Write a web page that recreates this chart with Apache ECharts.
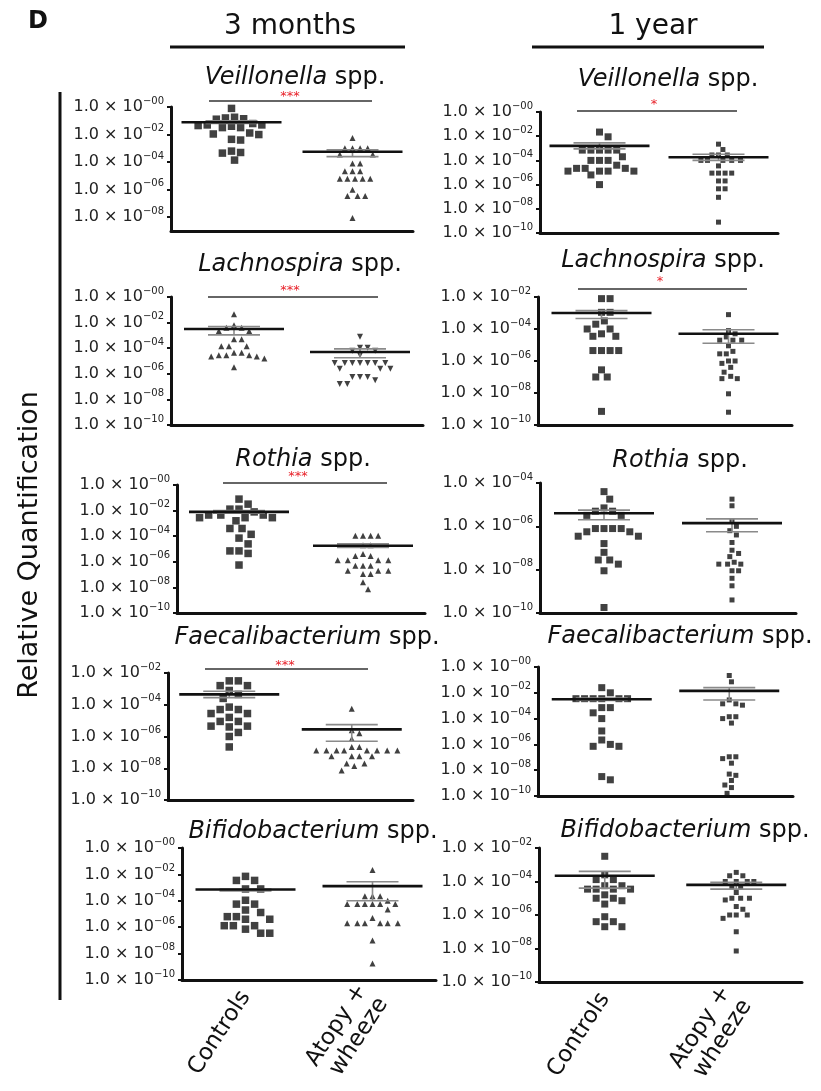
<!DOCTYPE html>
<html><head><meta charset="utf-8">
<script src="https://cdn.jsdelivr.net/npm/echarts@6/dist/echarts.min.js"></script>
<style>html,body{margin:0;padding:0;background:#fff}#c{width:821px;height:1091px}</style>
</head><body><div id="c"></div>
<script>
const FONT = 'DejaVu Sans';
const groupLabels = ['Controls', 'Atopy +\nwheeze'];
const ageHeaders = ['3 months', '1 year'];
const panelLetter = 'D';
const yAxisName = 'Relative Quantification';
const genera = ['Veillonella','Veillonella','Lachnospira','Lachnospira','Rothia','Rothia','Faecalibacterium','Faecalibacterium','Bifidobacterium','Bifidobacterium'];
const significance = ['***','*','***','*','***','','***','','',''];

// ---- values (relative quantification) ----
const veillonella3mControls = [7.9e-1,1.8e-1,1.6e-1,1.4e-1,1.3e-1,6.3e-2,5.0e-2,5.0e-2,4.5e-2,4.0e-2,3.2e-2,3.2e-2,1.3e-2,1.1e-2,1.0e-2,4.5e-3,4.0e-3,6.3e-4,5.0e-4,4.5e-4,1.4e-4];
const veillonella3mAtopy = [5.6e-3,1.0e-3,1.0e-3,1.0e-3,1.0e-3,3.5e-4,3.5e-4,7.9e-5,7.9e-5,2.2e-5,2.2e-5,2.2e-5,6.3e-6,6.3e-6,6.3e-6,6.3e-6,6.3e-6,1.0e-6,3.5e-7,3.5e-7,3.5e-7,8.9e-9];
const veillonella1yControls = [2.2e-2,8.9e-3,7.1e-4,7.1e-4,7.1e-4,7.1e-4,7.1e-4,2.0e-4,1.0e-4,1.0e-4,1.0e-4,4.0e-5,2.2e-5,2.2e-5,2.2e-5,1.3e-5,1.3e-5,1.3e-5,1.3e-5,6.3e-6,1.0e-6];
const veillonella1yAtopy = [2.2e-3,7.9e-4,2.8e-4,2.8e-4,2.8e-4,1.0e-4,1.0e-4,1.0e-4,1.0e-4,1.0e-4,3.5e-5,8.9e-6,8.9e-6,8.9e-6,8.9e-6,2.0e-6,2.0e-6,4.5e-7,4.5e-7,8.9e-8,7.9e-10];
const lachnospira3mControls = [4.5e-2,6.3e-3,4.0e-3,4.0e-3,2.2e-3,2.2e-3,5.0e-4,5.0e-4,1.4e-4,1.4e-4,1.4e-4,4.5e-5,4.5e-5,2.8e-5,2.8e-5,2.8e-5,2.2e-5,2.2e-5,1.6e-5,3.2e-6];
const lachnospira3mAtopy = [7.9e-4,1.1e-4,1.1e-4,6.3e-5,6.3e-5,2.8e-5,7.1e-6,7.1e-6,7.1e-6,7.1e-6,7.1e-6,7.1e-6,7.1e-6,2.5e-6,2.5e-6,2.5e-6,5.6e-7,5.6e-7,5.6e-7,3.2e-7,1.6e-7,1.6e-7];
const lachnospira1yControls = [7.9e-3,7.9e-3,1.1e-3,1.1e-3,3.2e-4,2.0e-4,1.0e-4,1.0e-4,5.0e-5,3.5e-5,3.5e-5,4.5e-6,4.5e-6,4.5e-6,4.5e-6,2.8e-7,1.0e-7,1.0e-7,7.1e-10];
const lachnospira1yAtopy = [7.9e-4,7.9e-5,5.0e-5,3.2e-5,2.0e-5,2.0e-5,2.0e-5,8.9e-6,4.0e-6,2.8e-6,2.8e-6,1.0e-6,1.0e-6,7.1e-7,4.0e-7,2.0e-7,1.1e-7,7.9e-8,7.9e-8,8.9e-9,6.3e-10];
const rothia3mControls = [7.9e-2,3.2e-2,1.3e-2,1.3e-2,7.9e-3,4.5e-3,4.5e-3,4.5e-3,2.8e-3,2.8e-3,2.8e-3,1.6e-3,4.0e-4,4.0e-4,1.4e-4,7.1e-5,2.5e-5,7.1e-6,7.1e-6,4.5e-6,5.6e-7];
const rothia3mAtopy = [1.1e-4,1.1e-4,1.1e-4,1.1e-4,2.0e-5,2.0e-5,4.0e-6,2.8e-6,2.8e-6,1.3e-6,1.3e-6,1.3e-6,1.3e-6,5.0e-7,5.0e-7,5.0e-7,2.0e-7,2.0e-7,2.0e-7,1.1e-7,1.1e-7,2.5e-8,7.1e-9];
const rothia1yControls = [4.0e-5,1.8e-5,7.1e-6,5.0e-6,5.0e-6,3.2e-6,3.2e-6,7.9e-7,7.9e-7,7.9e-7,7.9e-7,5.6e-7,5.6e-7,3.5e-7,3.5e-7,1.6e-7,6.3e-8,2.8e-8,2.8e-8,1.8e-8,8.9e-9,1.8e-10];
const rothia1yAtopy = [1.8e-5,8.9e-6,1.8e-6,1.0e-6,6.3e-7,4.0e-7,1.8e-7,7.9e-8,5.6e-8,4.0e-8,2.2e-8,1.8e-8,1.8e-8,1.8e-8,8.9e-9,8.9e-9,4.0e-9,1.8e-9,4.0e-10];
const faecali3mControls = [3.2e-3,3.2e-3,1.6e-3,1.6e-3,7.9e-4,4.5e-4,2.5e-4,7.1e-5,5.0e-5,5.0e-5,2.8e-5,2.8e-5,1.6e-5,8.9e-6,8.9e-6,4.5e-6,4.5e-6,4.0e-6,1.8e-6,1.0e-6,2.2e-7];
const faecali3mAtopy = [5.6e-5,2.5e-6,1.6e-6,7.1e-7,2.2e-7,2.2e-7,1.3e-7,1.3e-7,1.3e-7,1.3e-7,1.3e-7,1.3e-7,1.3e-7,1.3e-7,5.6e-8,5.6e-8,5.6e-8,5.6e-8,2.0e-8,2.0e-8,1.4e-8,7.1e-9];
const faecali1yControls = [2.5e-2,1.0e-2,3.5e-3,3.5e-3,3.5e-3,3.5e-3,3.5e-3,3.5e-3,7.1e-4,7.1e-4,2.8e-4,1.0e-4,1.1e-5,2.2e-6,1.0e-6,7.1e-7,7.1e-7,3.2e-9,1.8e-9];
const faecali1yAtopy = [2.2e-1,7.1e-2,2.8e-3,1.4e-3,1.4e-3,1.1e-3,1.4e-4,1.4e-4,1.0e-4,4.5e-5,1.1e-7,1.1e-7,7.9e-8,3.5e-8,5.0e-9,4.0e-9,1.6e-9,7.1e-10,4.5e-10,1.6e-10];
const bifido3mControls = [7.1e-3,3.5e-3,3.5e-3,7.9e-4,7.9e-4,1.1e-4,5.6e-5,5.6e-5,2.0e-5,1.3e-5,6.3e-6,6.3e-6,4.0e-6,4.0e-6,1.3e-6,1.3e-6,1.3e-6,7.1e-7,3.5e-7,3.5e-7];
const bifido3mAtopy = [2.2e-2,2.2e-4,2.2e-4,2.2e-4,1.0e-4,5.6e-5,5.6e-5,5.6e-5,5.6e-5,5.6e-5,5.6e-5,2.2e-5,5.0e-6,2.0e-6,2.0e-6,2.0e-6,2.0e-6,2.0e-6,2.0e-6,1.0e-7,1.8e-9];
const bifido1yControls = [3.2e-3,2.5e-4,1.3e-4,1.3e-4,5.6e-5,5.6e-5,3.5e-5,3.5e-5,3.5e-5,3.5e-5,1.6e-5,1.0e-5,1.0e-5,7.1e-6,4.5e-6,7.9e-7,4.0e-7,4.0e-7,2.0e-7,2.0e-7];
const bifido1yAtopy = [3.5e-4,2.2e-4,2.2e-4,1.0e-4,1.0e-4,1.0e-4,1.0e-4,4.5e-5,4.5e-5,2.2e-5,1.0e-5,1.0e-5,1.0e-5,7.9e-6,3.2e-6,2.2e-6,1.0e-6,1.0e-6,1.0e-6,6.3e-7,1.0e-7,7.1e-9];

// mean and SEM per panel (order: veil 3m, veil 1y, lach 3m, lach 1y, roth 3m, roth 1y, faec 3m, faec 1y, bifi 3m, bifi 1y)
const meanControls    = [7.9e-2,1.6e-3,3.2e-3,1.0e-3,7.9e-3,4.0e-6,4.5e-4,3.2e-3,7.1e-4,2.2e-4];
const semLowControls  = [6.3e-2,8.9e-4,1.1e-3,4.5e-4,6.3e-3,2.0e-6,2.8e-4,2.5e-3,5.6e-4,4.0e-5];
const semHighControls = [1.0e-1,2.8e-3,5.0e-3,1.4e-3,1.0e-2,5.6e-6,7.1e-4,4.0e-3,7.9e-4,4.0e-4];
const meanAtopy       = [5.6e-4,1.8e-4,5.0e-5,5.0e-5,1.8e-5,1.4e-6,2.8e-6,1.4e-2,1.3e-3,6.3e-5];
const semLowAtopy     = [2.5e-4,1.0e-4,1.8e-5,1.3e-5,1.3e-5,5.6e-7,5.0e-7,2.8e-3,1.0e-4,3.5e-5];
const semHighAtopy    = [7.9e-4,3.2e-4,8.9e-5,8.9e-5,2.5e-5,2.2e-6,5.6e-6,2.5e-2,2.8e-3,8.9e-5];

// tick labels
const yTicksTo8  = [1e0,1e-2,1e-4,1e-6,1e-8];
const yTicksFull = [1e0,1e-2,1e-4,1e-6,1e-8,1e-10];
const yTicksFrom2 = [1e-2,1e-4,1e-6,1e-8,1e-10];
const yTicksFrom4 = [1e-4,1e-6,1e-8,1e-10];

const controlsData = [veillonella3mControls,veillonella1yControls,lachnospira3mControls,lachnospira1yControls,rothia3mControls,rothia1yControls,faecali3mControls,faecali1yControls,bifido3mControls,bifido1yControls];
const atopyData = [veillonella3mAtopy,veillonella1yAtopy,lachnospira3mAtopy,lachnospira1yAtopy,rothia3mAtopy,rothia1yAtopy,faecali3mAtopy,faecali1yAtopy,bifido3mAtopy,bifido1yAtopy];
const tickSets = [yTicksTo8,yTicksFull,yTicksFull,yTicksFrom2,yTicksFull,yTicksFrom4,yTicksFrom2,yTicksFull,yTicksFull,yTicksFrom2];

// ---- layout (pixels) and styles ----
const layout = [
 {grid:[171,107,242,124], yRange:[1e-9,1e0],  title:[295,78],  sig:[209,372,101], star:[290,97]},
 {grid:[540,112,238,121], yRange:[1e-10,1e0], title:[668,80],  sig:[577,737,111], star:[654,105]},
 {grid:[171,297,252,128], yRange:[1e-10,1e0], title:[300,265], sig:[208,378,297], star:[290,291]},
 {grid:[538,297,254,128], yRange:[1e-10,1e-2],title:[663,261], sig:[578,747,289], star:[660,282]},
 {grid:[177,485,248,128], yRange:[1e-10,1e0], title:[303,460], sig:[223,387,483], star:[298,477]},
 {grid:[540,483,256,130], yRange:[1e-10,1e-4],title:[680,461]},
 {grid:[168,673,245,127], yRange:[1e-10,1e-2],title:[307,638], sig:[205,368,669], star:[285,666]},
 {grid:[538,667,255,129], yRange:[1e-10,1e0], title:[680,637]},
 {grid:[182,848,254,132], yRange:[1e-10,1e0], title:[313,832]},
 {grid:[539,848,263,134], yRange:[1e-10,1e-2],title:[685,831]}
];
const symbols = [
 {c:['rect',7.5,0], a:['triangle',6,0]},
 {c:['rect',7,0],   a:['rect',5,0]},
 {c:['triangle',6,0], a:['triangle',6,180]},
 {c:['rect',7,0],   a:['rect',5,0]},
 {c:['rect',7.5,0], a:['triangle',6,0]},
 {c:['rect',7,0],   a:['rect',5,0]},
 {c:['rect',7.5,0], a:['triangle',6,0]},
 {c:['rect',7,0],   a:['rect',5,0]},
 {c:['rect',7.5,0], a:['triangle',6,0]},
 {c:['rect',7,0],   a:['rect',5,0]}
];

// beeswarm layout (horizontal offsets only, in pixels -> axis units)
function swarm(vals, center, pxPerX, pxPerY, size) {
  const logs = vals.map(v => Math.log10(v));
  const order = logs.map((l, i) => i).sort((a, b) => logs[b] - logs[a]);
  const minD = size + 1.6, step = minD / 3;
  const placed = [];
  const out = new Array(vals.length);
  order.forEach(i => {
    const py = logs[i] * pxPerY;
    let dx = 0;
    for (let k = 0; k < 120; k++) {
      const cand = k === 0 ? 0 : (k % 2 ? 1 : -1) * Math.ceil(k / 2) * step;
      const hit = placed.some(p => Math.hypot(p[0] - cand, p[1] - py) < minD);
      if (!hit) { dx = cand; break; }
    }
    placed.push([dx, py]);
    out[i] = [center + dx / pxPerX, logs[i]];
  });
  return out;
}

function yLabel(v) {
  const n = Math.round(-v);
  return '{m|1.0 × 10}{s|−' + String(n).padStart(2, '0') + '}';
}

const grids = [], xAxes = [], yAxes = [], series = [], graphics = [];
layout.forEach((L, i) => {
  const [gl, gt, gw, gh] = L.grid;
  grids.push({left: gl, top: gt, width: gw, height: gh});
  const yMin = Math.log10(L.yRange[0]), yMax = Math.log10(L.yRange[1]);
  const bottom = i >= 8;
  xAxes.push({
    gridIndex: i, type: 'value', min: 0, max: 2,
    axisLine: {show: true, onZero: false, lineStyle: {color: '#111', width: 3}},
    axisTick: {show: false}, splitLine: {show: false},
    axisLabel: bottom ? {
      customValues: [0.5, 1.5], rotate: 57, margin: 13,
      fontFamily: FONT, fontSize: 23, lineHeight: 25, color: '#111',
      formatter: v => v < 1 ? groupLabels[0] : groupLabels[1]
    } : {show: false}
  });
  const ticks = tickSets[i].map(t => Math.log10(t));
  yAxes.push({
    gridIndex: i, type: 'value', min: yMin, max: yMax,
    axisLine: {show: true, lineStyle: {color: '#111', width: 3}},
    axisTick: {show: true, length: 4, customValues: ticks, lineStyle: {color: '#111', width: 2}},
    splitLine: {show: false},
    axisLabel: {
      customValues: ticks, margin: 7, formatter: yLabel,
      rich: {
        m: {fontFamily: FONT, fontSize: 16, color: '#222', lineHeight: 22},
        s: {fontFamily: FONT, fontSize: 10, color: '#222', verticalAlign: 'top'}
      }
    }
  });
  const pxPerX = gw / 2, pxPerY = gh / (yMax - yMin);
  const sym = symbols[i];
  [[controlsData[i], 0.5, sym.c], [atopyData[i], 1.5, sym.a]].forEach(([vals, center, s]) => {
    series.push({
      type: 'scatter', xAxisIndex: i, yAxisIndex: i, silent: true,
      symbol: s[0], symbolSize: s[1], symbolRotate: s[2],
      itemStyle: {color: '#111'},
      data: swarm(vals, center, pxPerX, pxPerY, s[1])
    });
  });
  const mData = [
    [0.5, Math.log10(meanControls[i]), Math.log10(semLowControls[i]), Math.log10(semHighControls[i])],
    [1.5, Math.log10(meanAtopy[i]), Math.log10(semLowAtopy[i]), Math.log10(semHighAtopy[i])]
  ];
  series.push({
    type: 'custom', xAxisIndex: i, yAxisIndex: i, silent: true, z: 5,
    encode: {x: 0, y: 1},
    data: mData,
    renderItem: (params, api) => {
      const c = api.coord([api.value(0), api.value(1)]);
      const lo = api.coord([api.value(0), api.value(2)]);
      const hi = api.coord([api.value(0), api.value(3)]);
      const grey = {stroke: '#8a8a8a', lineWidth: 1.6};
      return {type: 'group', children: [
        {type: 'line', shape: {x1: c[0], y1: hi[1], x2: c[0], y2: lo[1]}, style: grey},
        {type: 'line', shape: {x1: c[0] - 26, y1: hi[1], x2: c[0] + 26, y2: hi[1]}, style: grey},
        {type: 'line', shape: {x1: c[0] - 26, y1: lo[1], x2: c[0] + 26, y2: lo[1]}, style: grey},
        {type: 'line', shape: {x1: c[0] - 50, y1: c[1], x2: c[0] + 50, y2: c[1]}, style: {stroke: '#111', lineWidth: 2.6}}
      ]};
    }
  });
  graphics.push({
    type: 'text', x: L.title[0], y: L.title[1], silent: true,
    style: {
      text: '{i|' + genera[i] + '}{r| spp.}', align: 'center', verticalAlign: 'middle',
      rich: {
        i: {fontFamily: FONT, fontSize: 24, fontStyle: 'italic', fill: '#111'},
        r: {fontFamily: FONT, fontSize: 24, fill: '#111'}
      }
    }
  });
  if (significance[i]) {
    graphics.push({type: 'line', silent: true, shape: {x1: L.sig[0], y1: L.sig[2], x2: L.sig[1], y2: L.sig[2]}, style: {stroke: '#333', lineWidth: 1.5}});
    graphics.push({type: 'text', silent: true, x: L.star[0], y: L.star[1],
      style: {text: significance[i], align: 'center', verticalAlign: 'middle', fontFamily: FONT, fontSize: 13, fill: '#e8222a'}});
  }
});

graphics.push(
  {type: 'text', x: 28, y: 10, silent: true, style: {text: panelLetter, fontFamily: FONT, fontSize: 24, fontWeight: 'bold', fill: '#111'}},
  {type: 'text', x: 290, y: 27, silent: true, style: {text: ageHeaders[0], align: 'center', verticalAlign: 'middle', fontFamily: FONT, fontSize: 28, fill: '#111'}},
  {type: 'line', silent: true, shape: {x1: 170, y1: 47, x2: 405, y2: 47}, style: {stroke: '#111', lineWidth: 3}},
  {type: 'text', x: 653, y: 27, silent: true, style: {text: ageHeaders[1], align: 'center', verticalAlign: 'middle', fontFamily: FONT, fontSize: 28, fill: '#111'}},
  {type: 'line', silent: true, shape: {x1: 532, y1: 47, x2: 764, y2: 47}, style: {stroke: '#111', lineWidth: 3}},
  {type: 'line', silent: true, shape: {x1: 60, y1: 92, x2: 60, y2: 1000}, style: {stroke: '#111', lineWidth: 3}},
  {type: 'text', x: 30, y: 545, rotation: Math.PI / 2, silent: true, style: {text: yAxisName, align: 'center', verticalAlign: 'middle', fontFamily: FONT, fontSize: 27, fill: '#111'}}
);

const chart = echarts.init(document.getElementById('c'), null, {renderer: 'canvas'});
chart.setOption({
  animation: false,
  backgroundColor: '#fff',
  grid: grids, xAxis: xAxes, yAxis: yAxes, series: series,
  graphic: {elements: graphics}
});
</script></body></html>
